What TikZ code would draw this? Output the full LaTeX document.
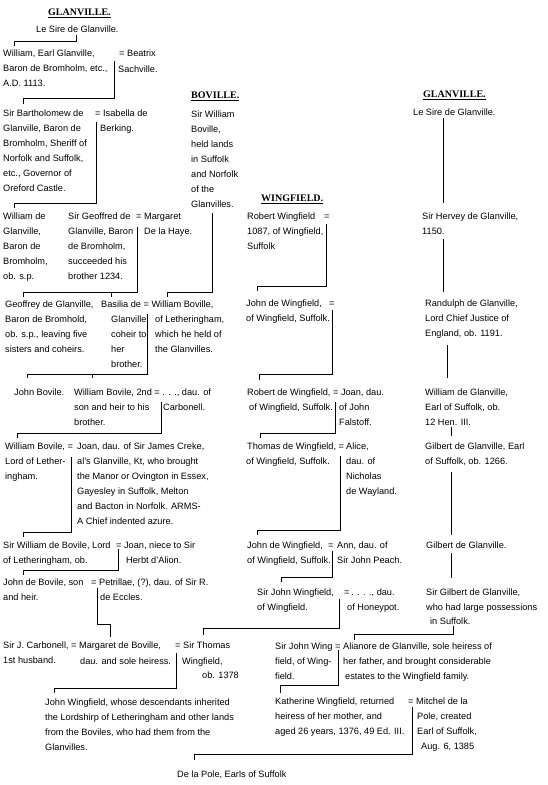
\documentclass[tikz,border=0pt]{standalone}
\usepackage{fontspec}
\setmainfont{Liberation Sans}
\newfontfamily\hdfont{Liberation Serif}
\tikzset{
  txt/.style={anchor=north west, inner sep=0pt, align=left, font=\fontsize{9.2}{15}\selectfont, yshift=7.2pt},
  hd/.style={anchor=west, inner sep=0pt, font=\hdfont\bfseries\fontsize{10}{12}\selectfont},
  ln/.style={line width=1pt, black}
}
\newcommand\gtx[4]{\node[txt] (#1) at (#2,#3) {\strut #4};}
\begin{document}
\begin{tikzpicture}[x=1pt,y=-1pt]
\fill[white] (0,0) rectangle (547,785);
\useasboundingbox (0,0) rectangle (547,785);
% headers
\node[hd] (h1) at (48,13) {\underline{GLANVILLE.}};
\node[hd] (h2) at (191,96) {\underline{BOVILLE.}};
\node[hd] (h3) at (423,95) {\underline{GLANVILLE.}};
\node[hd] (h4) at (261,199) {\underline{WINGFIELD.}};
% left Glanville
\gtx{a1}{36}{29}{Le Sire de Glanville.}
\gtx{a2}{3}{53}{William, Earl Glanville,\\Baron de Bromholm, etc.,\\A.D. 1113.}
\gtx{a3}{119}{53}{= Beatrix}
\gtx{a3b}{118}{69}{Sachville.}
\gtx{a4}{3}{113}{Sir Bartholomew de\\Glanville, Baron de\\Bromholm, Sheriff of\\Norfolk and Suffolk,\\etc., Governor of\\Oreford Castle.}
\gtx{a5}{95}{113}{= Isabella de}
\gtx{a5b}{100}{128}{Berking.}
\gtx{b1}{191}{114}{Sir William\\Boville,\\held lands\\in Suffolk\\and Norfolk\\of the\\Glanvilles.}
\gtx{a6}{3}{216}{William de\\Glanville,\\Baron de\\Bromholm,\\ob. s.p.}
\gtx{a7}{68}{216}{Sir Geoffred de\\Glanville, Baron\\de Bromholm,\\succeeded his\\brother 1234.}
\gtx{a8}{136}{216}{= Margaret}
\gtx{a8b}{144}{231}{De la Haye.}
\gtx{a9}{5}{304}{Geoffrey de Glanville,\\Baron de Bromhold,\\ob. s.p., leaving five\\sisters and coheirs.}
\gtx{a10}{101}{304}{Basilia de = William Boville,}
\gtx{a10b}{111}{319}{Glanville,\\coheir to\\her\\brother.}
\gtx{a10c}{155}{319}{of Letheringham,\\which he held of\\the Glanvilles.}
\gtx{a11}{14}{392}{John Bovile.}
\gtx{a12}{74}{392}{William Bovile, 2nd = . . ., dau. of\\son and heir to his\\brother.}
\gtx{a12b}{163}{407}{Carbonell.}
\gtx{a13}{5}{446}{William Bovile, =\\Lord of Lether-\\ingham.}
\gtx{a14}{77}{446}{Joan, dau. of Sir James Creke,\\al's Glanville, Kt, who brought\\the Manor or Ovington in Essex,\\Gayesley in Suffolk, Melton\\and Bacton in Norfolk. ARMS-\\A Chief indented azure.}
\gtx{a15}{3}{545}{Sir William de Bovile, Lord\\of Letheringham, ob.}
\gtx{a16}{116}{545}{= Joan, niece to Sir}
\gtx{a16b}{126}{560}{Herbt d'Alion.}
\gtx{a17}{3}{582}{John de Bovile, son\\and heir.}
\gtx{a18}{91}{582}{= Petrillae, (?), dau. of Sir R.}
\gtx{a18b}{100}{597}{de Eccles.}
\gtx{a19}{3}{645}{Sir J. Carbonell, = Margaret de Boville,\\1st husband.}
\gtx{a19b}{80}{661}{dau. and sole heiress.}
\gtx{a20}{175}{645}{= Sir Thomas}
\gtx{a20b}{182}{661}{Wingfield,}
\gtx{a20c}{202}{675}{ob. 1378}
\gtx{a21}{45}{702}{John Wingfield, whose descendants inherited\\the Lordshirp of Letheringham and other lands\\from the Boviles, who had them from the\\Glanvilles.}
\gtx{a22}{177}{774}{De la Pole, Earls of Suffolk}
% Wingfield
\gtx{w1}{247}{216}{Robert Wingfield\\1087, of Wingfield,\\Suffolk}
\gtx{w1e}{324}{216}{=}
\gtx{w2}{246}{303}{John de Wingfield,\\of Wingfield, Suffolk.}
\gtx{w2e}{329}{303}{=}
\gtx{w3}{247}{392}{Robert de Wingfield, = Joan, dau.}
\gtx{w3b}{249}{407}{of Wingfield, Suffolk.}
\gtx{w3c}{339}{407}{of John\\Falstoff.}
\gtx{w4}{247}{446}{Thomas de Wingfield, =}
\gtx{w4b}{346}{446}{Alice,\\dau. of\\Nicholas\\de Wayland.}
\gtx{w4c}{246}{461}{of Wingfield, Suffolk.}
\gtx{w5}{247}{545}{John de Wingfield,\\of Wingfield, Suffolk.}
\gtx{w5e}{328}{545}{=}
\gtx{w5b}{337}{545}{Ann, dau. of\\Sir John Peach.}
\gtx{w6}{257}{592}{Sir John Wingfield,\\of Wingfield.}
\gtx{w6e}{344}{592}{=}
\gtx{w6b}{351}{592}{. . . ., dau.}
\gtx{w6c}{347}{607}{of Honeypot.}
\gtx{w7}{275}{646}{Sir John Wing\\field, of Wing-\\field.}
\gtx{w7b}{335}{646}{= Alianore de Glanville, sole heiress of}
\gtx{w7c}{343}{661}{her father, and brought considerable}
\gtx{w7d}{345}{676}{estates to the Wingfield family.}
\gtx{w8}{275}{701}{Katherine Wingfield, returned\\heiress of her mother, and\\aged 26 years, 1376, 49 Ed. III.}
\gtx{w9}{408}{701}{= Mitchel de la}
\gtx{w9b}{417}{716}{Pole, created\\Earl of Suffolk,}
\gtx{w9c}{421}{746}{Aug. 6, 1385}
% right Glanville
\gtx{g1}{413}{112}{Le Sire de Glanville.}
\gtx{g2}{422}{216}{Sir Hervey de Glanville,\\1150.}
\gtx{g3}{425}{303}{Randulph de Glanville,\\Lord Chief Justice of\\England, ob. 1191.}
\gtx{g4}{425}{392}{William de Glanville,\\Earl of Suffolk, ob.\\12 Hen. III.}
\gtx{g5}{425}{446}{Gilbert de Glanville, Earl\\of Suffolk, ob. 1266.}
\gtx{g6}{426}{545}{Gilbert de Glanville.}
\gtx{g7}{426}{592}{Sir Gilbert de Glanville,\\who had large possessions}
\gtx{g7b}{430}{621}{in Suffolk.}
% connectors left
\draw[ln] (76,35)--(76,41)--(14,41)--(14,46);
\draw[ln] (114,61)--(114,98)--(23,98)--(23,104);
\draw[ln] (96,122)--(96,203)--(14,203)--(14,208);
\draw[ln] (137,227)--(137,292)--(23,292)--(23,297);
\draw[ln] (111,292)--(111,297);
\draw[ln] (212,213)--(212,292)--(167,292)--(167,297);
\draw[ln] (147,314)--(147,374)--(27,374)--(27,378);
\draw[ln] (92,374)--(92,378);
\draw[ln] (161,402)--(161,433)--(17,433)--(17,438);
\draw[ln] (71,457)--(71,532)--(23,532)--(23,537);
\draw[ln] (118,549)--(118,570)--(23,570)--(23,575);
\draw[ln] (97,588)--(97,624)--(110,624)--(110,637);
\draw[ln] (176,653)--(176,688)--(54,688)--(54,693);
% connectors Wingfield
\draw[ln] (326,224)--(326,286)--(257,286)--(257,291);
\draw[ln] (332,310)--(332,374)--(259,374)--(259,380);
\draw[ln] (335,402)--(335,433)--(260,433)--(260,438);
\draw[ln] (340,456)--(340,530)--(257,530)--(257,535);
\draw[ln] (332,551)--(332,577)--(281,577)--(281,582);
\draw[ln] (339,599)--(339,628)--(203,628)--(203,635);
\draw[ln] (338,650)--(338,685)--(280,685)--(280,693);
\draw[ln] (412,707)--(412,754)--(194,754)--(194,760);
% connectors right
\draw[ln] (443,118)--(443,203);
\draw[ln] (443,239)--(443,292);
\draw[ln] (447,345)--(447,378);
\draw[ln] (451,427)--(451,436);
\draw[ln] (451,472)--(451,535);
\draw[ln] (451,553)--(451,578);
\draw[ln] (453,626)--(453,634)--(354,634)--(354,640);
\end{tikzpicture}
\end{document}
